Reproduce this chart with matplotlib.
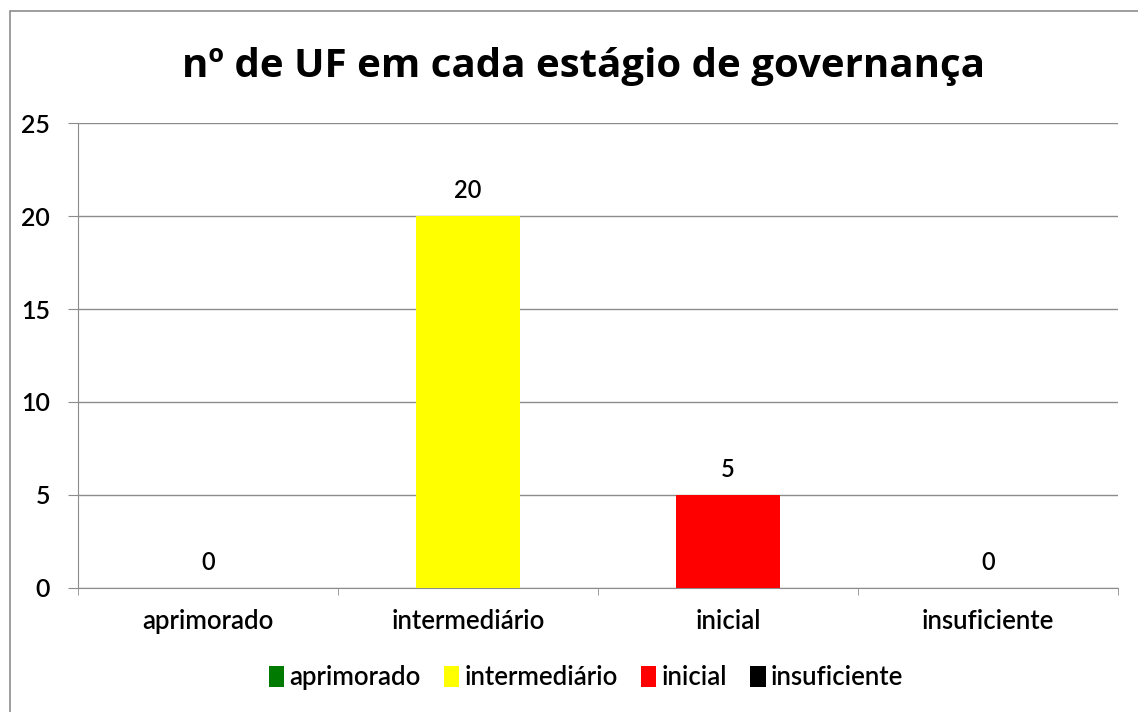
import matplotlib.pyplot as plt
from matplotlib.patches import Rectangle, Patch

estagios = ["aprimorado", "intermediário", "inicial", "insuficiente"]
num_uf = [0, 20, 5, 0]
cores = ["#007a00", "#ffff00", "#ff0000", "#000000"]

plt.rcParams['font.family'] = ['Lato', 'DejaVu Sans']
plt.rcParams['font.weight'] = 'semibold'

fig = plt.figure(figsize=(11.38, 7.12), dpi=100)
ax = fig.add_axes([0.0685, 0.1742, 0.914, 0.653])

# moldura do gráfico
fig.patches.append(Rectangle((10 / 1138, -0.01), 1.02, 1 - 11 / 712 + 0.01,
                             transform=fig.transFigure, fill=False,
                             edgecolor="#8c8c8c", linewidth=1.2))

x = range(len(estagios))
ax.bar(x, num_uf, width=0.4, color=cores, zorder=3)
for xi, v in zip(x, num_uf):
    ax.text(xi, v + 0.75, str(v), ha="center", va="bottom", fontsize=17)

ax.set_xlim(-0.5, 3.5)
ax.set_ylim(0, 25)
ax.set_yticks([0, 5, 10, 15, 20, 25])
ax.set_xticks(x)
ax.set_xticklabels(estagios)
ax.set_xticks([-0.5, 0.5, 1.5, 2.5, 3.5], minor=True)
ax.tick_params(axis="x", which="major", length=0, pad=15, labelsize=18.5)
ax.tick_params(axis="x", which="minor", length=5, color="#8c8c8c", direction="out")
ax.tick_params(axis="y", length=7, color="#8c8c8c", pad=13, labelsize=18)
ax.grid(axis="y", color="#8c8c8c", linewidth=1.0, zorder=0)
for s in ["top", "right"]:
    ax.spines[s].set_visible(False)
for s in ["left", "bottom"]:
    ax.spines[s].set_color("#8c8c8c")

fig.text(0.513, 1 - 66 / 712, "nº de UF em cada estágio de governança",
         ha="center", va="center", fontsize=29, fontweight="bold",
         family=['Open Sans', 'DejaVu Sans'])

handles = [Patch(facecolor=c, label=e) for c, e in zip(cores, estagios)]
fig.legend(handles=handles, loc="center", bbox_to_anchor=(0.515, 0.048), ncol=4,
           frameon=False, fontsize=18.5, handlelength=0.6, handleheight=0.9,
           handletextpad=0.2, columnspacing=0.9)

fig.savefig("out.png", dpi=100)
